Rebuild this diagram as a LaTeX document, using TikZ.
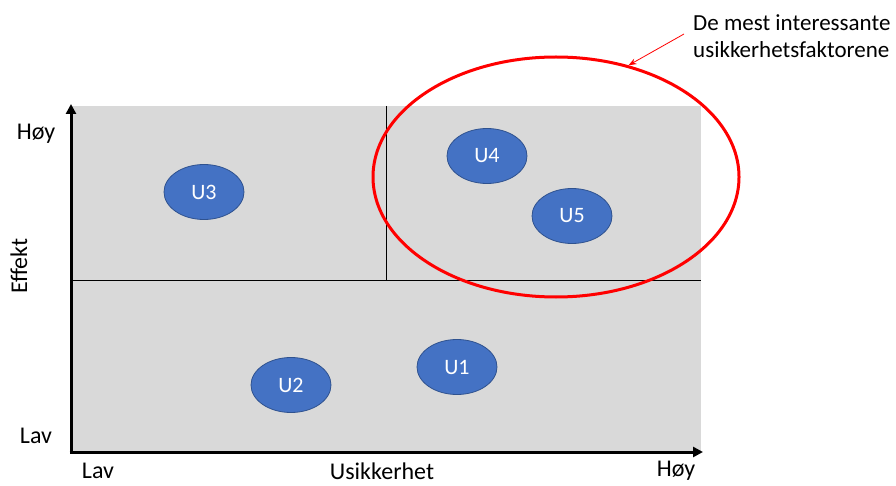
\documentclass[tikz,border=0pt]{standalone}
\usepackage{fontspec}
\setmainfont{Carlito}
\usetikzlibrary{shapes.geometric,arrows.meta,positioning}
\definecolor{panelgray}{HTML}{D9D9D9}
\definecolor{factorblue}{HTML}{4472C4}
\definecolor{factoredge}{HTML}{2F528F}

\begin{document}
\begin{tikzpicture}[x=1pt,y=-1pt,
    factor/.style={ellipse,fill=factorblue,draw=factoredge,line width=0.8pt,
        minimum width=80pt,minimum height=55pt,inner sep=0pt,text=white,
        font=\fontsize{22}{26}\selectfont},
    axislabel/.style={font=\fontsize{24}{28}\selectfont,inner sep=0pt},
    axis/.style={line width=3pt,-{Triangle[length=10pt,width=10pt]}}]
    \useasboundingbox (0,0) rectangle (896,486);
    % quadrants
    \fill[panelgray] (71,106) rectangle (701,452);
    \coordinate (origin) at (71,452);
    \coordinate (ytop) at (71,104);
    \coordinate (xend) at (703,452);
    \coordinate (midleft) at (71,280);
    \coordinate (midright) at (701,280);
    \coordinate (splittop) at (386,106);
    \coordinate (splitbottom) at (386,280);
    \draw[line width=1pt] (midleft) -- (midright);
    \draw[line width=1pt] (splittop) -- (splitbottom);
    \draw[axis] ([yshift=1.5pt]origin) -- (ytop);
    \draw[axis] ([xshift=-1.5pt]origin) -- (xend);

    % axis labels
    \node[axislabel] (yhigh) at (36,134) {Høy};
    \node[axislabel] (ylow) at (36,436) {Lav};
    \node[axislabel,rotate=90] (ytitle) at (19,266) {Effekt};
    \node[axislabel] (xlow) at (98,471) {Lav};
    \node[axislabel] (xtitle) at (382,471) {Usikkerhet};
    \node[axislabel] (xhigh) at (676,471) {Høy};

    % factors
    \node[factor] (u1) at (457,367) {U1};
    \node[factor] (u2) at (291,385) {U2};
    \node[factor] (u3) at (204,192) {U3};
    \node[factor] (u4) at (487,156) {U4};
    \node[factor] (u5) at (572,216) {U5};

    % most interesting ones
    \node[ellipse,draw=red,line width=3pt,minimum width=366pt,minimum height=240pt]
        (focus) at (556,177) {};
    \node[anchor=west,align=left,inner sep=0pt,font=\fontsize{23}{26.5}\selectfont]
        (annot) at (693,36) {De mest interessante\\usikkerhetsfaktorene};
    \draw[red,line width=0.8pt,-{Stealth[length=8pt,width=6pt]}]
        ([xshift=-9pt,yshift=2pt]annot.west) -- (focus.57);
\end{tikzpicture}
\end{document}
